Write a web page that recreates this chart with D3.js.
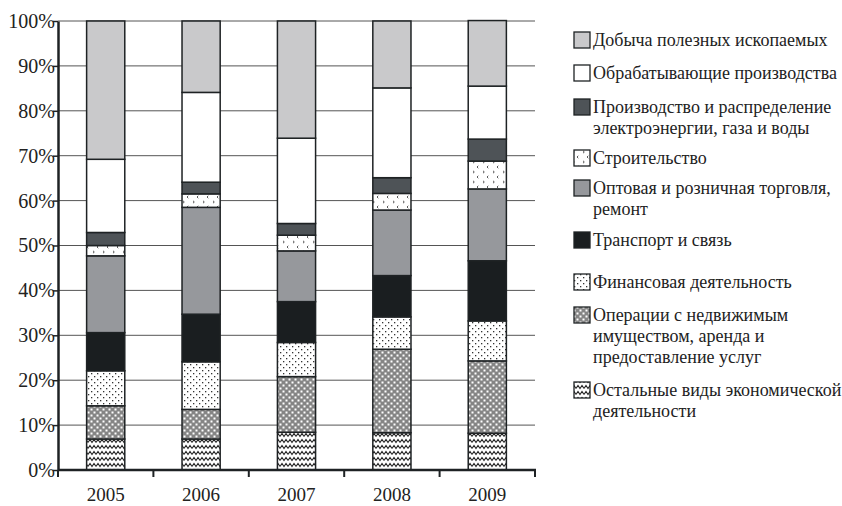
<!DOCTYPE html>
<html><head><meta charset="utf-8">
<script src="https://cdn.jsdelivr.net/npm/d3@7"></script>
</head><body style="margin:0"><svg id="c" width="842" height="506" font-family="'Liberation Serif'" style="display:block"></svg>
<script>
const years = ["2005","2006","2007","2008","2009"];
const other        = [6.9, 6.9, 8.4, 8.3, 8.2];
const realEstate   = [7.4, 6.6, 12.4, 18.6, 16.1];
const finance      = [7.8, 10.6, 7.6, 7.2, 8.9];
const transport    = [8.5, 10.6, 9.1, 9.2, 13.4];
const trade        = [17.1, 23.8, 11.3, 14.6, 16.0];
const construction = [2.3, 3.0, 3.5, 3.7, 6.2];
const utilities    = [2.9, 2.6, 2.6, 3.5, 4.9];
const manufacturing= [16.3, 20.0, 19.0, 20.0, 11.8];
const mining       = [30.8, 15.9, 26.1, 14.9, 14.6];
const yTicks = [0,10,20,30,40,50,60,70,80,90,100];
const yTickLabels = ["0%","10%","20%","30%","40%","50%","60%","70%","80%","90%","100%"];
const seriesKeys = ["other","realEstate","finance","transport","trade","construction","utilities","manufacturing","mining"];
const seriesValues = {other, realEstate, finance, transport, trade, construction, utilities, manufacturing, mining};
const legendLabels = {
  mining: ["Добыча полезных ископаемых"],
  manufacturing: ["Обрабатывающие производства"],
  utilities: ["Производство и распределение","электроэнергии, газа и воды"],
  construction: ["Строительство"],
  trade: ["Оптовая и розничная торговля,","ремонт"],
  transport: ["Транспорт и связь"],
  finance: ["Финансовая деятельность"],
  realEstate: ["Операции с недвижимым","имуществом, аренда и","предоставление услуг"],
  other: ["Остальные виды экономической","деятельности"]
};
const legendOrder = ["mining","manufacturing","utilities","construction","trade","transport","finance","realEstate","other"];

const FONT = "'Liberation Serif'";
const svg = d3.select("#c");
const defs = svg.append("defs");
function pat(id,w,h,bg){const p=defs.append("pattern").attr("id",id).attr("patternUnits","userSpaceOnUse").attr("width",w).attr("height",h);p.append("rect").attr("width",w).attr("height",h).attr("fill",bg);return p;}
let p = pat("pWave",8,6,"#fff");
p.append("path").attr("d","M0,4.5 L2,1.5 L4,4.5 L6,1.5 L8,4.5").attr("fill","none").attr("stroke","#222").attr("stroke-width",1.1);
p = pat("pCheck",6,6,"#858585");
p.append("rect").attr("x",0.5).attr("y",0.5).attr("width",2).attr("height",2).attr("fill","#fff");
p.append("rect").attr("x",3.5).attr("y",3.5).attr("width",2).attr("height",2).attr("fill","#fff");
p = pat("pDots",6,6,"#fff");
p.append("rect").attr("x",1).attr("y",1).attr("width",1.3).attr("height",1.3).attr("fill","#333");
p.append("rect").attr("x",4).attr("y",4).attr("width",1.3).attr("height",1.3).attr("fill","#333");
p = pat("pChev",10,10,"#fff");
p.append("path").attr("d","M3,0.8 L4.3,2 L3,3.2 M8.3,5.8 L7,7 L8.3,8.2").attr("fill","none").attr("stroke","#444").attr("stroke-width",0.9);

const fills = {mining:"#c9c9cb", manufacturing:"#fff", utilities:"#4e5357", construction:"url(#pChev)", trade:"#96989c", transport:"#1a1e20", finance:"url(#pDots)", realEstate:"url(#pCheck)", other:"url(#pWave)"};

const x0=58, x1=535, yTop=21, yBot=470;
const x = d3.scaleBand().domain(years).range([x0,x1]).paddingInner(0.6).paddingOuter(0.3);
const y = d3.scaleLinear().domain([0,100]).range([yBot,yTop]);

svg.append("g").selectAll("line").data(yTicks.filter(d=>d>0)).join("line")
  .attr("x1",x0).attr("x2",x1).attr("y1",d=>y(d)).attr("y2",d=>y(d)).attr("stroke","#555").attr("stroke-width",1);

const table = years.map((yr,i)=>{const o={year:yr};seriesKeys.forEach(k=>o[k]=seriesValues[k][i]);return o;});
const stack = d3.stack().keys(seriesKeys)(table);
svg.append("g").selectAll("g").data(stack).join("g").attr("fill",d=>fills[d.key])
  .selectAll("rect").data(d=>d).join("rect")
  .attr("x",d=>x(d.data.year)).attr("width",x.bandwidth())
  .attr("y",d=>y(d[1])).attr("height",d=>y(d[0])-y(d[1]))
  .attr("stroke","#1e2224").attr("stroke-width",1.5);

const ya = svg.append("g").attr("transform",`translate(${x0},0)`)
  .call(d3.axisLeft(y).tickValues(yTicks).tickFormat((d,i)=>yTickLabels[i]).tickSize(5).tickSizeOuter(0))
  .attr("font-family",FONT);
ya.select(".domain").attr("stroke","#1e2224").attr("stroke-width",2.5);
ya.selectAll(".tick line").attr("stroke","#1e2224").attr("stroke-width",1.5);
ya.selectAll("text").attr("font-size",20).attr("font-family",FONT).attr("x",-3).attr("fill","#222");

const xa = svg.append("g").attr("transform",`translate(0,${yBot})`);
xa.append("line").attr("x1",x0).attr("x2",x1+1).attr("stroke","#1e2224").attr("stroke-width",2.5);
const bounds = d3.range(years.length+1).map(i=>x0+i*(x1-x0)/years.length);
xa.selectAll("line.tk").data(bounds).join("line").attr("class","tk")
  .attr("x1",d=>d).attr("x2",d=>d).attr("y1",0).attr("y2",7).attr("stroke","#1e2224").attr("stroke-width",2);
xa.selectAll("text").data(years).join("text")
  .attr("x",d=>x(d)+x.bandwidth()/2).attr("y",31).attr("text-anchor","middle")
  .attr("font-size",19).attr("font-family",FONT).attr("fill","#222").text(d=>d);

const legendY = {mining:40, manufacturing:73, utilities:107, construction:158, trade:188, transport:240, finance:282, realEstate:315, other:390};
const lg = svg.append("g");
legendOrder.forEach(k=>{
  const cy = legendY[k];
  lg.append("rect").attr("x",574).attr("y",cy-8).attr("width",16).attr("height",16)
    .attr("fill",fills[k]).attr("stroke","#1e2224").attr("stroke-width",1.3);
  legendLabels[k].forEach((line,i)=>{
    lg.append("text").attr("x",593).attr("y",cy+6+i*21).attr("font-size",18)
      .attr("font-family",FONT).attr("fill","#222").text(line);
  });
});
</script></body></html>
